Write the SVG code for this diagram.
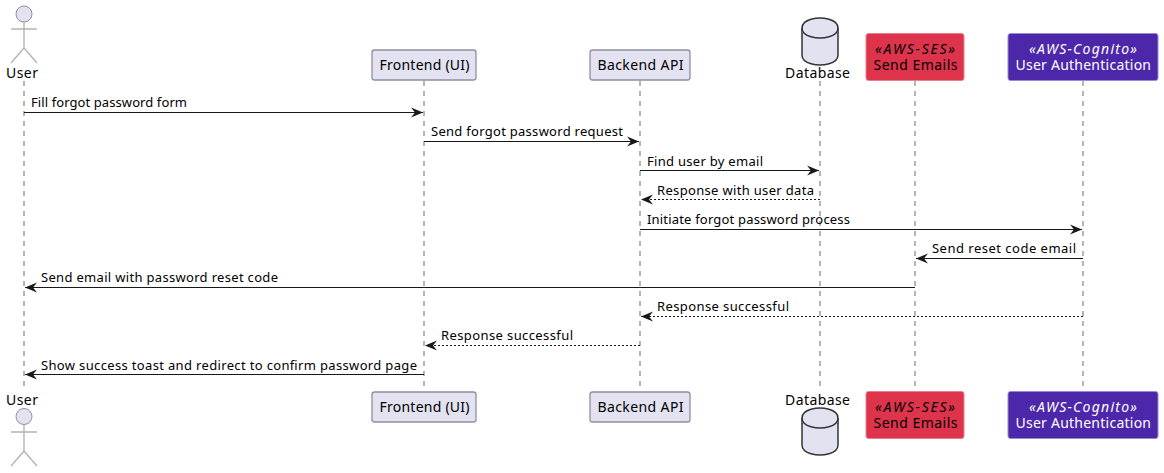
<svg xmlns="http://www.w3.org/2000/svg" width="1164" height="473" viewBox="0 0 1164 473">
<style>
text{font-family:"Noto Sans","Open Sans","DejaVu Sans",sans-serif;font-size:13px;fill:#000}
.n{font-size:14px}
.life{stroke:#b5b5b5;stroke-width:2;stroke-dasharray:5 5;fill:none}
.box{fill:#e2e2f0;stroke:#8f8f9f;stroke-width:1.3}
.ses{fill:#dd344c;stroke:#e8808f;stroke-width:1}
.cog{fill:#4d27aa;stroke:#9a88d0;stroke-width:1}
.w{fill:#fff}
.st{font-style:italic;font-size:14px}
.actor{stroke:#b5b5b5;stroke-width:1.4;fill:none}
.head{fill:#e2e2f0;stroke:#8f8f9f;stroke-width:1}
.db{fill:#e2e2f0;stroke:#333;stroke-width:1.5}
.lid{fill:none;stroke:#333;stroke-width:1.5}
.m{stroke:#181818;stroke-width:1;fill:none}
.d{stroke:#181818;stroke-width:1;stroke-dasharray:2 2;fill:none}
</style>
<defs>
<marker id="a" markerUnits="userSpaceOnUse" markerWidth="13" markerHeight="10" refX="12" refY="5" orient="auto-start-reverse" overflow="visible"><path d="M0 0L12 5L0 10L4 5Z" fill="#181818"/></marker>
</defs>
<g id="lifelines">
<path class="life" d="M24 81V391M424 81V391M640 81V391M820 81V391M915 81V391M1083 81V391"/>
</g>
<g id="user-top"><circle class="head" cx="24" cy="14" r="8"/><path class="actor" d="M24 22V48M11 29H37M24 48L11 63M24 48L37 63"/><text class="n" x="6" y="78" textLength="32">User</text></g>
<g id="frontend-top"><rect class="box" x="372" y="50" width="104" height="30" rx="2.500"/><text class="n" x="379.500" y="70" textLength="90">Frontend (UI)</text></g>
<g id="backend-top"><rect class="box" x="590" y="50" width="100" height="30" rx="2.500"/><text class="n" x="597.500" y="70" textLength="86">Backend API</text></g>
<g id="database-top"><path class="db" d="M802 28C802 18 820 18 820 18C820 18 838 18 838 28V55C838 65 820 65 820 65C820 65 802 65 802 55Z"/><path class="lid" d="M802 28C802 38 820 38 820 38C820 38 838 38 838 28"/><text class="n" x="785" y="78" textLength="65">Database</text></g>
<g id="ses-top"><rect class="ses" x="866" y="33.500" width="98" height="47" rx="2.500"/><text class="st" x="875" y="54" textLength="80">«AWS-SES»</text><text class="n" x="873.500" y="70" textLength="84">Send Emails</text></g>
<g id="cognito-top"><rect class="cog" x="1008" y="33.500" width="150" height="47" rx="2.500"/><text class="st w" x="1029" y="54" textLength="108">«AWS-Cognito»</text><text class="n w" x="1015.500" y="70" textLength="135.500">User Authentication</text></g>
<g id="connectors">
<line class="m" x1="24" y1="112.500" x2="423" y2="112.500" marker-end="url(#a)"/>
<line class="m" x1="424" y1="141.500" x2="639" y2="141.500" marker-end="url(#a)"/>
<line class="m" x1="640" y1="170.500" x2="819" y2="170.500" marker-end="url(#a)"/>
<line class="d" x1="820" y1="199.500" x2="641" y2="199.500" marker-end="url(#a)"/>
<line class="m" x1="640" y1="229.500" x2="1082" y2="229.500" marker-end="url(#a)"/>
<line class="m" x1="1083" y1="258.500" x2="916" y2="258.500" marker-end="url(#a)"/>
<line class="m" x1="915" y1="287.500" x2="25" y2="287.500" marker-end="url(#a)"/>
<line class="d" x1="1083" y1="316.500" x2="641" y2="316.500" marker-end="url(#a)"/>
<line class="d" x1="640" y1="345.500" x2="425" y2="345.500" marker-end="url(#a)"/>
<line class="m" x1="424" y1="374.500" x2="25" y2="374.500" marker-end="url(#a)"/>
</g>
<g id="labels">
<text x="31" y="107" textLength="156">Fill forgot password form</text>
<text x="431" y="136" textLength="192">Send forgot password request</text>
<text x="647" y="166" textLength="116">Find user by email</text>
<text x="657" y="195" textLength="157">Response with user data</text>
<text x="647" y="224" textLength="203">Initiate forgot password process</text>
<text x="932" y="253" textLength="144">Send reset code email</text>
<text x="41" y="282" textLength="237">Send email with password reset code</text>
<text x="657" y="311" textLength="132">Response successful</text>
<text x="441" y="340" textLength="132">Response successful</text>
<text x="41" y="370" textLength="376">Show success toast and redirect to confirm password page</text>
</g>
<g id="user-bottom"><text class="n" x="6" y="405" textLength="32">User</text><circle class="head" cx="24" cy="416.500" r="8"/><path class="actor" d="M24 424.500V451M11 432H37M24 451L11 466M24 451L37 466"/></g>
<g id="frontend-bottom"><rect class="box" x="372" y="392" width="104" height="30" rx="2.500"/><text class="n" x="379.500" y="412" textLength="90">Frontend (UI)</text></g>
<g id="backend-bottom"><rect class="box" x="590" y="392" width="100" height="30" rx="2.500"/><text class="n" x="597.500" y="412" textLength="86">Backend API</text></g>
<g id="database-bottom"><text class="n" x="785" y="405" textLength="65">Database</text><path class="db" d="M802 418C802 408 820 408 820 408C820 408 838 408 838 418V445C838 455 820 455 820 455C820 455 802 455 802 445Z"/><path class="lid" d="M802 418C802 428 820 428 820 428C820 428 838 428 838 418"/></g>
<g id="ses-bottom"><rect class="ses" x="866" y="391.500" width="98" height="47" rx="2.500"/><text class="st" x="875" y="412" textLength="80">«AWS-SES»</text><text class="n" x="873.500" y="428" textLength="84">Send Emails</text></g>
<g id="cognito-bottom"><rect class="cog" x="1008" y="391.500" width="150" height="47" rx="2.500"/><text class="st w" x="1029" y="412" textLength="108">«AWS-Cognito»</text><text class="n w" x="1015.500" y="428" textLength="135.500">User Authentication</text></g>
</svg>
